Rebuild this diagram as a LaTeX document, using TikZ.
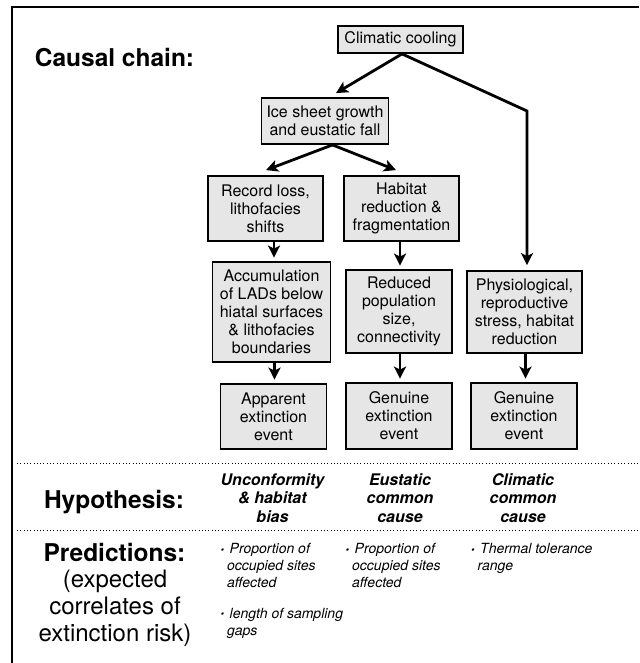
\documentclass[tikz,border=0pt]{standalone}
\usepackage{fontspec}
\setmainfont{TeX Gyre Heros}
\usetikzlibrary{arrows.meta,calc}
\definecolor{boxgray}{HTML}{E6E6E6}
\begin{document}
\begin{tikzpicture}[x=1pt,y=-1pt,
  box/.style={draw=black, line width=1.8pt, fill=boxgray, align=center, inner sep=0pt,
              font=\fontsize{16}{18}\selectfont},
  arr/.style={line width=2.8pt, -{Stealth[length=12pt,width=12pt,inset=3pt]}},
  varr/.style={arr, shorten >=3.5pt},
  dotline/.style={line width=1pt, dash pattern=on 1pt off 2.3pt},
  biglbl/.style={font=\fontsize{24.5}{26}\bfseries, anchor=base, inner sep=0pt},
  hyplbl/.style={font=\fontsize{16}{18.3}\bfseries\itshape, align=center, anchor=north, inner sep=0pt},
  predlbl/.style={font=\fontsize{14}{16.8}\itshape, align=left, anchor=north west, inner sep=0pt}]
\newcommand{\bul}{\makebox[9pt][l]{\raisebox{0.8pt}{\fontsize{10}{10}\selectfont\textbullet}}}
\useasboundingbox (0,0) rectangle (639,663);
% frame
\draw[line width=2pt] (11.5,663) -- (11.5,7) -- (639,7);
% boxes
\node[box, minimum width=125pt, minimum height=27pt] (cc) at (400.5,39.5) {Climatic cooling};
\node[box, minimum width=127pt, minimum height=46pt] (ice) at (325,121) {Ice sheet growth\\and eustatic fall};
\node[box, minimum width=115pt, minimum height=65pt] (rec) at (265.5,208.5) {Record loss,\\lithofacies\\shifts};
\node[box, minimum width=115pt, minimum height=65pt] (hab) at (401.5,208.5) {Habitat\\reduction \&\\fragmentation};
\node[box, minimum width=118pt, minimum height=100pt] (acc) at (271.5,312) {Accumulation\\of LADs below\\hiatal surfaces\\\& lithofacies\\boundaries};
\node[box, minimum width=106pt, minimum height=83pt] (red) at (399,311.5) {Reduced\\population\\size,\\connectivity};
\node[box, minimum width=115pt, minimum height=82pt] (phy) at (524.5,312) {Physiological,\\reproductive\\stress, habitat\\reduction};
\node[box, minimum width=106pt, minimum height=65pt] (app) at (273.5,416.5) {Apparent\\extinction\\event};
\node[box, minimum width=106pt, minimum height=66pt] (gen1) at (399,416) {Genuine\\extinction\\event};
\node[box, minimum width=106pt, minimum height=66pt] (gen2) at (524,416) {Genuine\\extinction\\event};
% connectors
\coordinate (bend) at (527,111);
\draw[arr] ($(cc.south)+(1.5,0)$) -- ($(ice.north)+(11,-4)$);
\draw[arr, shorten >=5pt] ($(cc.south)+(1.5,0)$) -- (bend) -- (bend |- phy.north);
\draw[arr] ($(ice.south)+(7.5,0)$) -- ($(rec.north)+(0.5,-5)$);
\draw[arr] ($(ice.south)+(7.5,0)$) -- ($(hab.north)+(-5.5,-5)$);
\draw[varr] ($(acc.north |- rec.south)+(2.5,0)$) -- ($(acc.north)+(2.5,0)$);
\draw[varr] ($(red.north |- hab.south)+(1,0)$) -- ($(red.north)+(1,0)$);
\draw[varr] ($(app.north |- acc.south)+(1,0)$) -- ($(app.north)+(1,0)$);
\draw[varr] ($(red.south)+(1,0)$) -- ($(gen1.north)+(1,0)$);
\draw[varr] ($(phy.south)+(1,0)$) -- ($(gen2.north)+(1.5,0)$);
% separators
\draw[dotline] (17,463) -- (639,463);
\draw[dotline] (17,530) -- (639,530);
% left labels
\node[biglbl] (causal) at (114.5,66.5) {Causal chain:};
\node[biglbl] (hyp) at (114,508) {Hypothesis:};
\node[biglbl] (pred) at (114.5,561.5) {Predictions:};
\node[font=\fontsize{24}{27}\selectfont, align=center, anchor=base, inner sep=0pt] (predsub) at (115,641.5) {(expected\\correlates of\\extinction risk)};
% hypotheses
\node[hyplbl] (h1) at (272.5,473.5) {Unconformity\\\& habitat\\bias};
\node[hyplbl] (h2) at (400,473.5) {Eustatic\\common\\cause};
\node[hyplbl] (h3) at (523,473.5) {Climatic\\common\\cause};
% predictions
\node[predlbl] (p1) at (220.5,543.5) {\bul Proportion of\\\hspace*{6.5pt}occupied sites\\\hspace*{6.5pt}affected};
\node[predlbl] (p2) at (345.5,543.5) {\bul Proportion of\\\hspace*{6.5pt}occupied sites\\\hspace*{6.5pt}affected};
\node[predlbl] (p3) at (471,543.5) {\bul Thermal tolerance\\\hspace*{6.5pt}range};
\node[predlbl] (p4) at (220.5,608) {\bul length of sampling\\\hspace*{6.5pt}gaps};
\end{tikzpicture}
\end{document}
